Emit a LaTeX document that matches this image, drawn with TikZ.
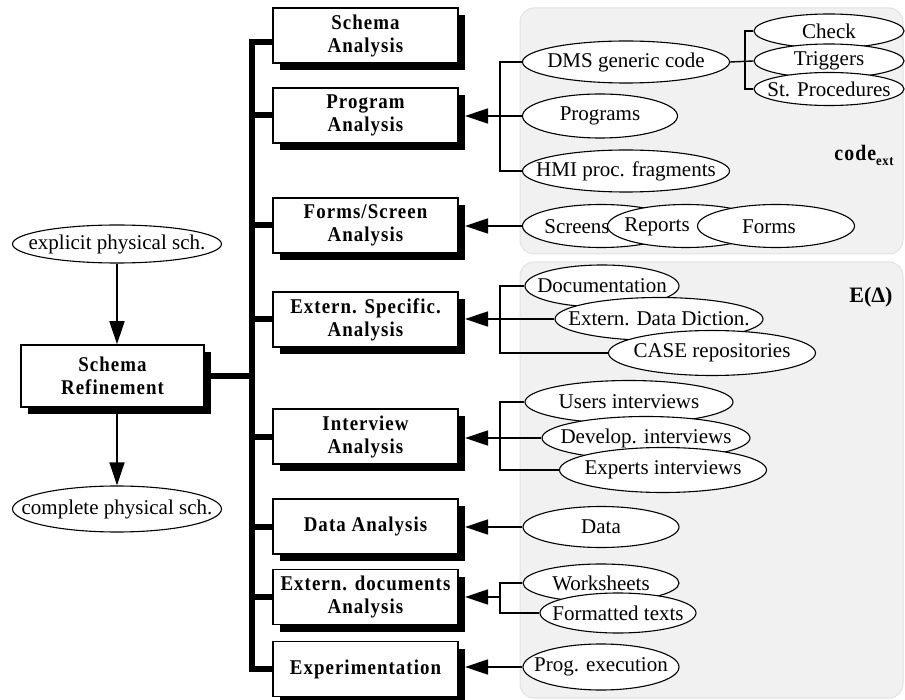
\documentclass[tikz,border=0pt]{standalone}
\usepackage{fontspec}
\setmainfont{Liberation Serif}
\newfontfamily\boxfont{Liberation Serif}[FakeStretch=0.9,LetterSpace=5]
\usetikzlibrary{shapes.geometric,arrows.meta,shadows}
\definecolor{panelfill}{HTML}{F1F1F1}
\definecolor{panelline}{HTML}{E2E2E2}
\newcommand{\zw}[1]{\makebox[0pt]{#1}}
\tikzset{
  ell/.style={ellipse,draw,line width=1.1pt,fill=white,inner sep=0pt,
    font=\fontsize{21}{23}\selectfont},
  abox/.style={rectangle,draw,line width=1.5pt,fill=white,inner sep=0pt,
    minimum width=185pt,minimum height=55pt,align=center,
    font=\boxfont\bfseries\fontsize{21}{23}\selectfont,
    drop shadow={shadow xshift=7pt,shadow yshift=-7pt,fill=black,opacity=1}},
  bus/.style={line width=6pt},
  ln/.style={line width=1.4pt},
  arr/.style={line width=1.4pt,-{Triangle[length=23pt,width=15pt]}},
  panel/.style={fill=panelfill,draw=panelline,line width=1pt,rounded corners=14pt},
  lbl/.style={inner sep=0pt,font=\fontsize{21}{23}\selectfont}
}
\begin{document}
\begin{tikzpicture}[x=1pt,y=-1pt]
\useasboundingbox (0,0) rectangle (905,700);
% panels
\path[panel] (520,8) rectangle (903,254);
\path[panel] (520,262) rectangle (903,698);
% coordinates
\coordinate (bustop) at (252,42);
\coordinate (b0) at (745,0);
\coordinate (b1) at (500,0);
\coordinate (tipx) at (465,0);
% left part
\node[ell,minimum width=209pt,minimum height=38pt] (exp) at (117,244) {\zw{explicit physical sch.}};
\node[ell,minimum width=209pt,minimum height=46pt] (cmp) at (117,509) {\zw{complete physical sch.}};
\node[abox,minimum width=183pt,minimum height=62pt] (sr) at (112.5,376) {Schema\\Refinement};
% analysis boxes
\node[abox] (sa) at (365.5,35.5) {Schema\\Analysis};
\node[abox] (pa) at (365.5,115.5) {Program\\Analysis};
\node[abox] (fs) at (365.5,225.5) {Forms/Screen\\Analysis};
\node[abox] (es) at (365.5,319.5) {Extern. Specific.\\Analysis};
\node[abox] (ia) at (365.5,436.5) {Interview\\Analysis};
\node[abox] (da) at (365.5,526.5) {Data Analysis};
\node[abox] (ed) at (365.5,597) {Extern. documents\\Analysis};
\node[abox] (ex) at (365.5,669) {Experimentation};
% bus
\draw[bus] (sa.west |- bustop) -- (bustop) -- (bustop |- ex.west) -- (ex.west);
\foreach \b in {pa,fs,es,ia,da,ed}{\draw[bus] (bustop |- \b.west) -- (\b.west);}
\draw[bus] (sr.east) -- (sr.east -| bustop);
\draw[arr] (exp.south) -- (exp.south |- sr.north);
\draw[arr] (sr.south -| exp.south) -- (cmp.north);
% code ellipses
\node[ell,minimum width=207pt,minimum height=42pt] (dms) at (626,62) {\zw{DMS generic code}};
\node[ell,minimum width=155pt,minimum height=44pt] (prg) at (600,116) {\zw{Programs}};
\node[ell,minimum width=207pt,minimum height=42pt] (hmi) at (626,171) {\zw{HMI proc. fragments}};
\node[ell,minimum width=150pt,minimum height=34pt] (chk) at (829,31) {\zw{Check}};
\node[ell,minimum width=150pt,minimum height=34pt] (trg) at (829,61) {\zw{Triggers}};
\node[ell,minimum width=150pt,minimum height=33pt] (stp) at (829,89) {\zw{St. Procedures}};
\node[ell,minimum width=157pt,minimum height=43pt] (scr) at (601,226) {};
\node[ell,minimum width=157pt,minimum height=43pt] (rep) at (686,226) {};
\node[ell,minimum width=157pt,minimum height=43pt] (frm) at (776,226) {};
\node[lbl] (scrt) at (577,227) {Screens};
\node[lbl] (rept) at (657,227) {Reports};
\node[lbl] (frmt) at (769,227) {Forms};
\node[inner sep=0pt,font=\boxfont\bfseries\fontsize{22}{24}\selectfont] (cext) at (864,155)
  {code\raisebox{-5pt}{\fontsize{14}{14}\selectfont ext}};
% E(Delta) ellipses
\node[ell,minimum width=154pt,minimum height=42pt] (doc) at (602,286) {\zw{Documentation}};
\node[ell,minimum width=208pt,minimum height=43pt] (edd) at (659,319) {\zw{Extern. Data Diction.}};
\node[ell,minimum width=207pt,minimum height=45pt] (cas) at (712,353) {\zw{CASE repositories}};
\node[ell,minimum width=208pt,minimum height=43pt] (usr) at (629,402) {\zw{Users interviews}};
\node[ell,minimum width=208pt,minimum height=43pt] (dev) at (646,438) {\zw{Develop. interviews}};
\node[ell,minimum width=207pt,minimum height=45pt] (xpi) at (663,470) {\zw{Experts interviews}};
\node[ell,minimum width=156pt,minimum height=41pt] (dat) at (601,527) {\zw{Data}};
\node[ell,minimum width=156pt,minimum height=38pt] (wks) at (601,583) {\zw{Worksheets}};
\node[ell,minimum width=156pt,minimum height=40pt] (fmt) at (618,613) {\zw{Formatted texts}};
\node[ell,minimum width=156pt,minimum height=46pt] (prx) at (601,667) {\zw{Prog. execution}};
\node[inner sep=0pt,font=\bfseries\fontsize{22}{24}\selectfont] (edl) at (871,297) {E(Δ)};
% connectors
\draw[ln] (dms.west) -| (b1 |- hmi.west) -- (hmi.west);
\draw[arr] (prg.west) -- (tipx |- prg.west);
\draw[ln] (dms.east) -- (trg.west);
\draw[ln] (chk.west) -| (b0 |- stp.west) -- (stp.west);
\draw[arr] (scr.west) -- (tipx |- scr.west);
\draw[ln] (doc.west) -| (b1 |- cas.west) -- (cas.west);
\draw[arr] (edd.west) -- (tipx |- edd.west);
\draw[ln] (usr.west) -| (b1 |- xpi.west) -- (xpi.west);
\draw[arr] (dev.west) -- (tipx |- dev.west);
\draw[arr] (dat.west) -- (tipx |- dat.west);
\draw[ln] (wks.west) -| (b1 |- fmt.west) -- (fmt.west);
\draw[arr] (b1 |- ed.east) -- (tipx |- ed.east);
\draw[arr] (prx.west) -- (tipx |- prx.west);
\end{tikzpicture}
\end{document}
